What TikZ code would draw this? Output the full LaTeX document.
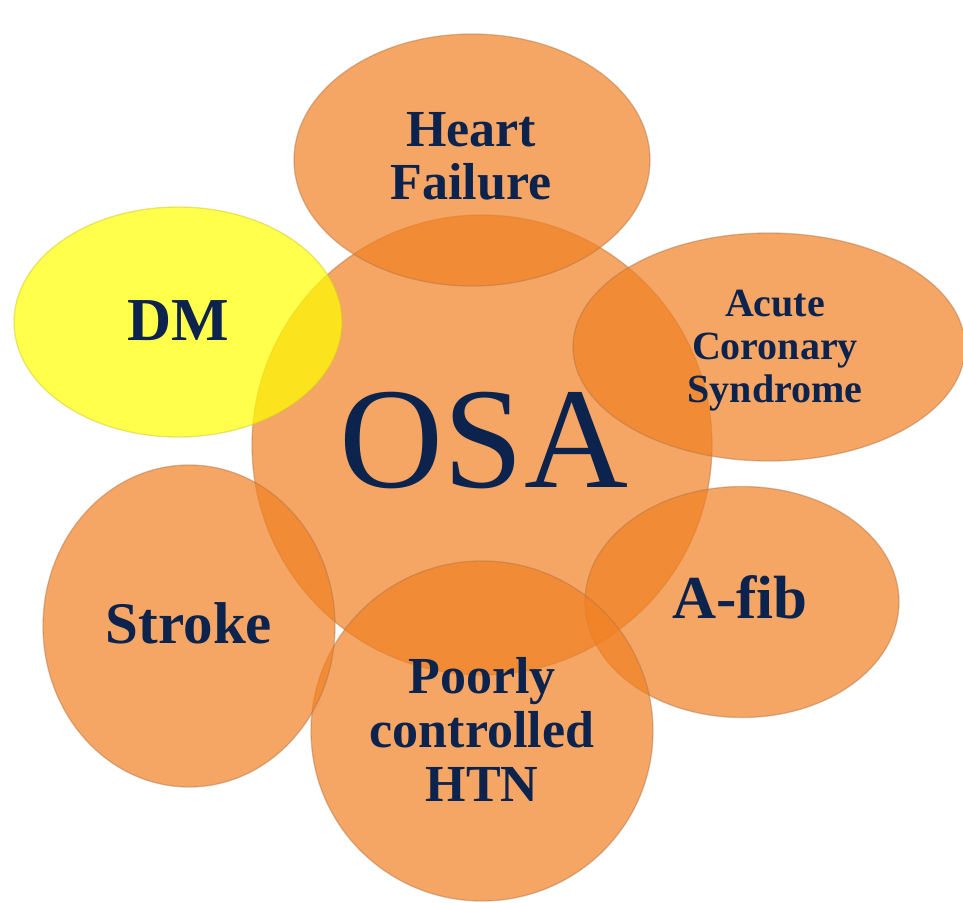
\documentclass[tikz,border=0pt]{standalone}
\usepackage{fontspec}
\setmainfont{Liberation Serif}
\usetikzlibrary{shapes.geometric}
\definecolor{bubbleorange}{RGB}{241,128,34}
\definecolor{bubbleyellow}{RGB}{255,255,0}
\definecolor{rimbrown}{RGB}{175,115,70}
\definecolor{rimyellow}{RGB}{205,195,40}
\definecolor{navytext}{RGB}{12,35,78}
\tikzset{
  bubble/.style={ellipse, inner sep=0pt, fill=bubbleorange, fill opacity=0.7,
    draw=rimbrown, draw opacity=0.45, line width=1.3pt},
  yellowbubble/.style={bubble, fill=bubbleyellow, draw=rimyellow},
  label/.style={text=navytext, inner sep=0pt, align=center, font=\bfseries},
}
\begin{document}
\begin{tikzpicture}[x=1pt, y=-1pt]
  \useasboundingbox (0,0) rectangle (963,902);
  % central disc
  \node[bubble, minimum width=460pt, minimum height=460pt] (osa) at (482,445) {};
  % surrounding conditions
  \node[bubble, minimum width=356pt, minimum height=252pt] (hf) at (472,160) {};
  \node[bubble, minimum width=392pt, minimum height=228pt] (acs) at (769,347) {};
  \node[bubble, minimum width=314pt, minimum height=231pt] (afib) at (742,602) {};
  \node[bubble, minimum width=342pt, minimum height=340pt] (htn) at (482,731) {};
  \node[bubble, minimum width=292pt, minimum height=322pt] (stroke) at (189,626) {};
  \node[yellowbubble, minimum width=328pt, minimum height=230pt] (dm) at (178,322) {};
  % captions
  \node[text=navytext, inner sep=0pt, anchor=base, font=\fontsize{144}{144}\selectfont]
    (osatext) at (484,487) {OSA};
  \node[label, anchor=north, font=\bfseries\fontsize{52}{53}\selectfont]
    (hftext) at (471,112) {Heart\\Failure};
  \node[label, anchor=north, font=\bfseries\fontsize{40}{43}\selectfont]
    (acstext) at (775,290) {Acute\\Coronary\\Syndrome};
  \node[label, anchor=base, font=\bfseries\fontsize{61}{61}\selectfont]
    (afibtext) at (740,618) {A-fib};
  \node[label, anchor=north, font=\bfseries\fontsize{52}{54}\selectfont]
    (htntext) at (482,657) {Poorly\\controlled\\HTN};
  \node[label, anchor=base, font=\bfseries\fontsize{59}{59}\selectfont]
    (stroketext) at (189,643) {Stroke};
  \node[label, anchor=base, font=\bfseries\fontsize{61}{61}\selectfont]
    (dmtext) at (178,340) {DM};
\end{tikzpicture}
\end{document}
